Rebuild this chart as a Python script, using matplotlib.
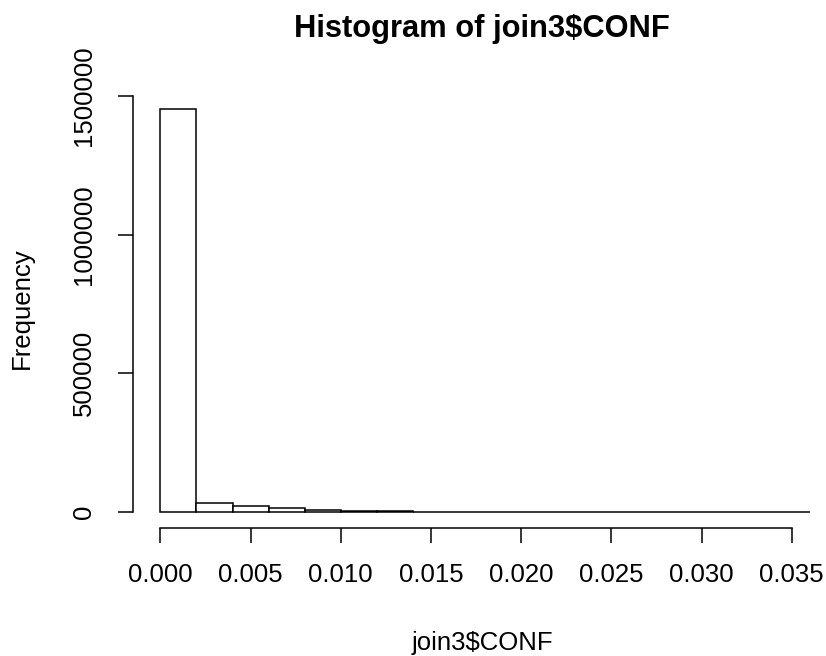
import matplotlib
matplotlib.use("Agg")
import matplotlib.pyplot as plt
import numpy as np

plt.rcParams['font.family'] = ['Liberation Sans', 'DejaVu Sans']

# histogram bins (breaks of width 0.002) and counts
breaks = [0.000, 0.002, 0.004, 0.006, 0.008, 0.010, 0.012, 0.014, 0.016, 0.018,
          0.020, 0.022, 0.024, 0.026, 0.028, 0.030, 0.032, 0.034, 0.036]
counts = [1454000, 31500, 19000, 13500, 5000, 4000, 3000, 300, 200, 150,
          100, 80, 60, 50, 40, 30, 20, 10]
xticks = [0.000, 0.005, 0.010, 0.015, 0.020, 0.025, 0.030, 0.035]
yticks = [0, 500000, 1000000, 1500000]

fig = plt.figure(figsize=(8.26, 6.56), dpi=100)
ax = fig.add_axes([0.1614, 0.1951, 0.8386, 0.6647])

widths = np.diff(breaks)
ax.bar(breaks[:-1], counts, width=widths, align='edge',
       facecolor='white', edgecolor='black', linewidth=1.1)

ax.set_xlim(-0.0015, 0.0369)
ax.set_ylim(-58850, 1514500)

for s in ['top', 'right']:
    ax.spines[s].set_visible(False)
ax.spines['left'].set_bounds(0, 1500000)
ax.spines['bottom'].set_bounds(0, 0.035)
for s in ['left', 'bottom']:
    ax.spines[s].set_linewidth(1.1)

ax.set_xticks(xticks)
ax.set_xticklabels(['%.3f' % v for v in xticks])
ax.set_yticks(yticks)
ax.set_yticklabels([str(v) for v in yticks], rotation=90, va='center')
ax.tick_params(axis='both', length=11, width=1.1, labelsize=18.5)
ax.tick_params(axis='x', pad=14)
ax.tick_params(axis='y', pad=16)

fig.text(0.5835, 0.9436, 'Histogram of join3$CONF', ha='center', va='baseline',
         fontsize=22.2, fontweight='bold')
fig.text(0.5835, 0.009, 'join3$CONF', ha='center', va='baseline', fontsize=18.5)
fig.text(0.026, 0.53, 'Frequency', ha='center', va='center', rotation=90,
         fontsize=18.5)

fig.savefig('out.png', dpi=100)
